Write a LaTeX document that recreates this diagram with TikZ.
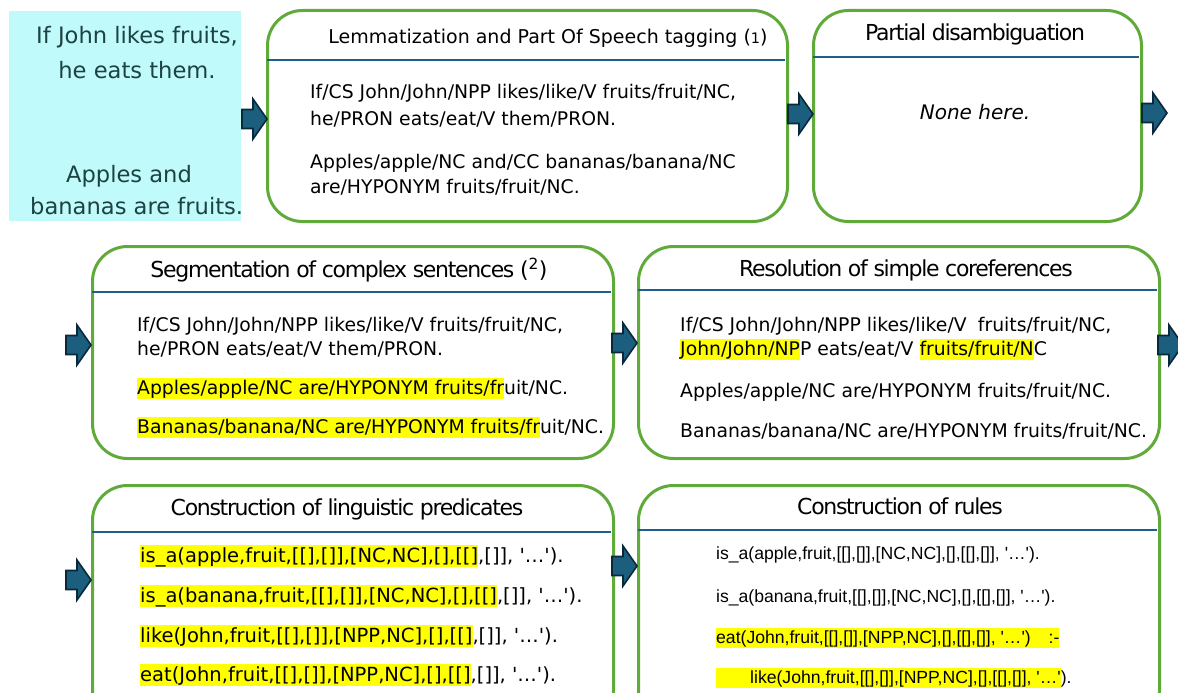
\documentclass[tikz,border=0pt]{standalone}
\usepackage{fontspec}
\setmainfont{DejaVu Sans}
\newfontfamily\ttlfont{DejaVu Sans}[LetterSpace=-6]
\newfontfamily\arialfont{Liberation Sans}
\definecolor{stgreen}{RGB}{96,170,58}
\definecolor{sepblue}{RGB}{31,95,139}
\definecolor{arrfill}{RGB}{27,94,126}
\definecolor{arrline}{RGB}{10,40,58}
\definecolor{cyanbg}{RGB}{192,250,250}
\definecolor{cyantext}{RGB}{28,66,66}
\definecolor{hly}{RGB}{255,255,0}
\newcommand\hlt[1]{{\setlength{\fboxsep}{0pt}\colorbox{hly}{\rule[-0.27em]{0pt}{1.12em}#1}}}
\newcommand\sq{\textquotesingle}
\tikzset{
  stagebox/.style={draw=stgreen, line width=3pt, rounded corners=35pt, fill=white, inner sep=0pt, anchor=north west},
  sepline/.style={draw=sepblue, line width=1.5pt},
  ttl/.style={font=\ttlfont\fontsize{22pt}{26pt}\selectfont, anchor=base, inner sep=0pt},
  body/.style={font=\fontsize{18.8pt}{23pt}\selectfont, anchor=base west, inner sep=0pt},
  pbody/.style={font=\fontsize{19.5pt}{23pt}\selectfont, anchor=base west, inner sep=0pt},
  rbody/.style={font=\arialfont\fontsize{17.6pt}{21pt}\selectfont, anchor=base west, inner sep=0pt},
  srctext/.style={font=\fontsize{22.6pt}{26pt}\selectfont, text=cyantext, inner sep=0pt},
  blockarrow/.pic={\draw[fill=arrfill, draw=arrline, line width=1.6pt, line join=miter]
     (0,-9.5) -- (11,-9.5) -- (11,-20) -- (25,0) -- (11,20) -- (11,9.5) -- (0,9.5) -- cycle;}
}
\begin{document}
\begin{tikzpicture}[x=1pt,y=-1pt]
\useasboundingbox (0,0) rectangle (1178,693);
% source text
\node[fill=cyanbg, minimum width=232pt, minimum height=210pt, inner sep=0pt, anchor=north west] (src) at (9,11) {};
\node[srctext, anchor=base] (s1) at (137,44) {If John likes fruits,};
\node[srctext, anchor=base] (s2) at (137,78) {he eats them.};
\node[srctext, anchor=base] (s3) at (129,182) {Apples and};
\node[srctext, anchor=base west] (s4) at (30,214) {bananas are fruits.};

% box 1
\node[stagebox, minimum width=520pt, minimum height=211pt] (b1) at (266,9) {};
\node[anchor=base, inner sep=0pt, font=\fontsize{19pt}{22pt}\selectfont] (t1) at (548,44) {Lemmatization and Part Of Speech tagging ({\fontsize{14.5pt}{14pt}\selectfont 1})};
\draw[sepline] (267,60) -- (785,60);
\node[body] (b1l1) at (310,99) {If/CS John/John/NPP likes/like/V fruits/fruit/NC,};
\node[body] (b1l2) at (310,125) {he/PRON eats/eat/V them/PRON.};
\node[body] (b1l3) at (310,168) {Apples/apple/NC and/CC bananas/banana/NC};
\node[body] (b1l4) at (310,193) {are/HYPONYM fruits/fruit/NC.};

% box 2
\node[stagebox, minimum width=328pt, minimum height=211pt] (b2) at (812,9) {};
\node[ttl] (t2) at (975,41) {Partial disambiguation};
\draw[sepline] (813,57) -- (1139,57);
\node[anchor=base, inner sep=0pt, font=\itshape\fontsize{20pt}{24pt}\selectfont] (none) at (975,119) {None here.};

% box 3
\node[stagebox, minimum width=521pt, minimum height=212pt] (b3) at (91,245) {};
\node[ttl] (t3) at (349,277) {Segmentation of complex sentences (\textsuperscript{2})};
\draw[sepline] (92,292) -- (611,292);
\node[body] (b3l1) at (137,331) {If/CS John/John/NPP likes/like/V fruits/fruit/NC,};
\node[body] (b3l2) at (137,355) {he/PRON eats/eat/V them/PRON.};
\node[body] (b3l3) at (137,394) {\hlt{Apples/apple/NC are/HYPONYM fruits/fr}uit/NC.};
\node[body] (b3l4) at (137,433) {\hlt{Bananas/banana/NC are/HYPONYM fruits/fr}uit/NC.};

% box 4
\node[stagebox, minimum width=521pt, minimum height=212pt] (b4) at (637,245) {};
\node[ttl] (t4) at (906,276) {Resolution of simple coreferences};
\draw[sepline] (638,290) -- (1157,290);
\node[body] (b4l1) at (680,331) {If/CS John/John/NPP likes/like/V\hspace{0.6em}fruits/fruit/NC,};
\node[body] (b4l2) at (680,355) {\hlt{John/John/NP}P eats/eat/V \hlt{fruits/fruit/N}C};
\node[body] (b4l3) at (680,397) {Apples/apple/NC are/HYPONYM fruits/fruit/NC.};
\node[body] (b4l4) at (680,437) {Bananas/banana/NC are/HYPONYM fruits/fruit/NC.};

% box 5
\node[stagebox, minimum width=521pt, minimum height=240pt] (b5) at (91,484) {};
\node[ttl] (t5) at (347,515) {Construction of linguistic predicates};
\draw[sepline] (92,532) -- (611,532);
\node[pbody] (b5l1) at (140,562) {\hlt{is\_a(apple,fruit,[[],[]],[NC,NC],[],[[]},[]], \sq…\sq).};
\node[pbody] (b5l2) at (140,602) {\hlt{is\_a(banana,fruit,[[],[]],[NC,NC],[],[[]},[]], \sq…\sq).};
\node[pbody] (b5l3) at (140,642) {\hlt{like(John,fruit,[[],[]],[NPP,NC],[],[[]},[]], \sq…\sq).};
\node[pbody] (b5l4) at (140,681) {\hlt{eat(John,fruit,[[],[]],[NPP,NC],[],[[]},[]], \sq…\sq).};

% box 6
\node[stagebox, minimum width=521pt, minimum height=240pt] (b6) at (637,484) {};
\node[ttl] (t6) at (900,514) {Construction of rules};
\draw[sepline] (638,530) -- (1157,530);
\node[rbody] (b6l1) at (716,559) {is\_a(apple,fruit,[[],[]],[NC,NC],[],[[],[]], \sq…\sq).};
\node[rbody] (b6l2) at (716,602) {is\_a(banana,fruit,[[],[]],[NC,NC],[],[[],[]], \sq…\sq).};
\node[rbody] (b6l3) at (716,643) {\hlt{eat(John,fruit,[[],[]],[NPP,NC],[],[[],[]], \sq…\sq)\hspace{18pt}:-}};
\node[rbody] (b6l4) at (716,683) {\hlt{\hspace{34pt}like(John,fruit,[[],[]],[NPP,NC],[],[[],[]], \sq…\sq}).};

% block arrows
\pic at (242,119) {blockarrow};
\pic at (788,114) {blockarrow};
\pic at (1142,113) {blockarrow};
\pic at (66,345) {blockarrow};
\pic at (612,343) {blockarrow};
\pic at (1158,345) {blockarrow};
\pic at (66,580) {blockarrow};
\pic at (612,566) {blockarrow};
\end{tikzpicture}
\end{document}
